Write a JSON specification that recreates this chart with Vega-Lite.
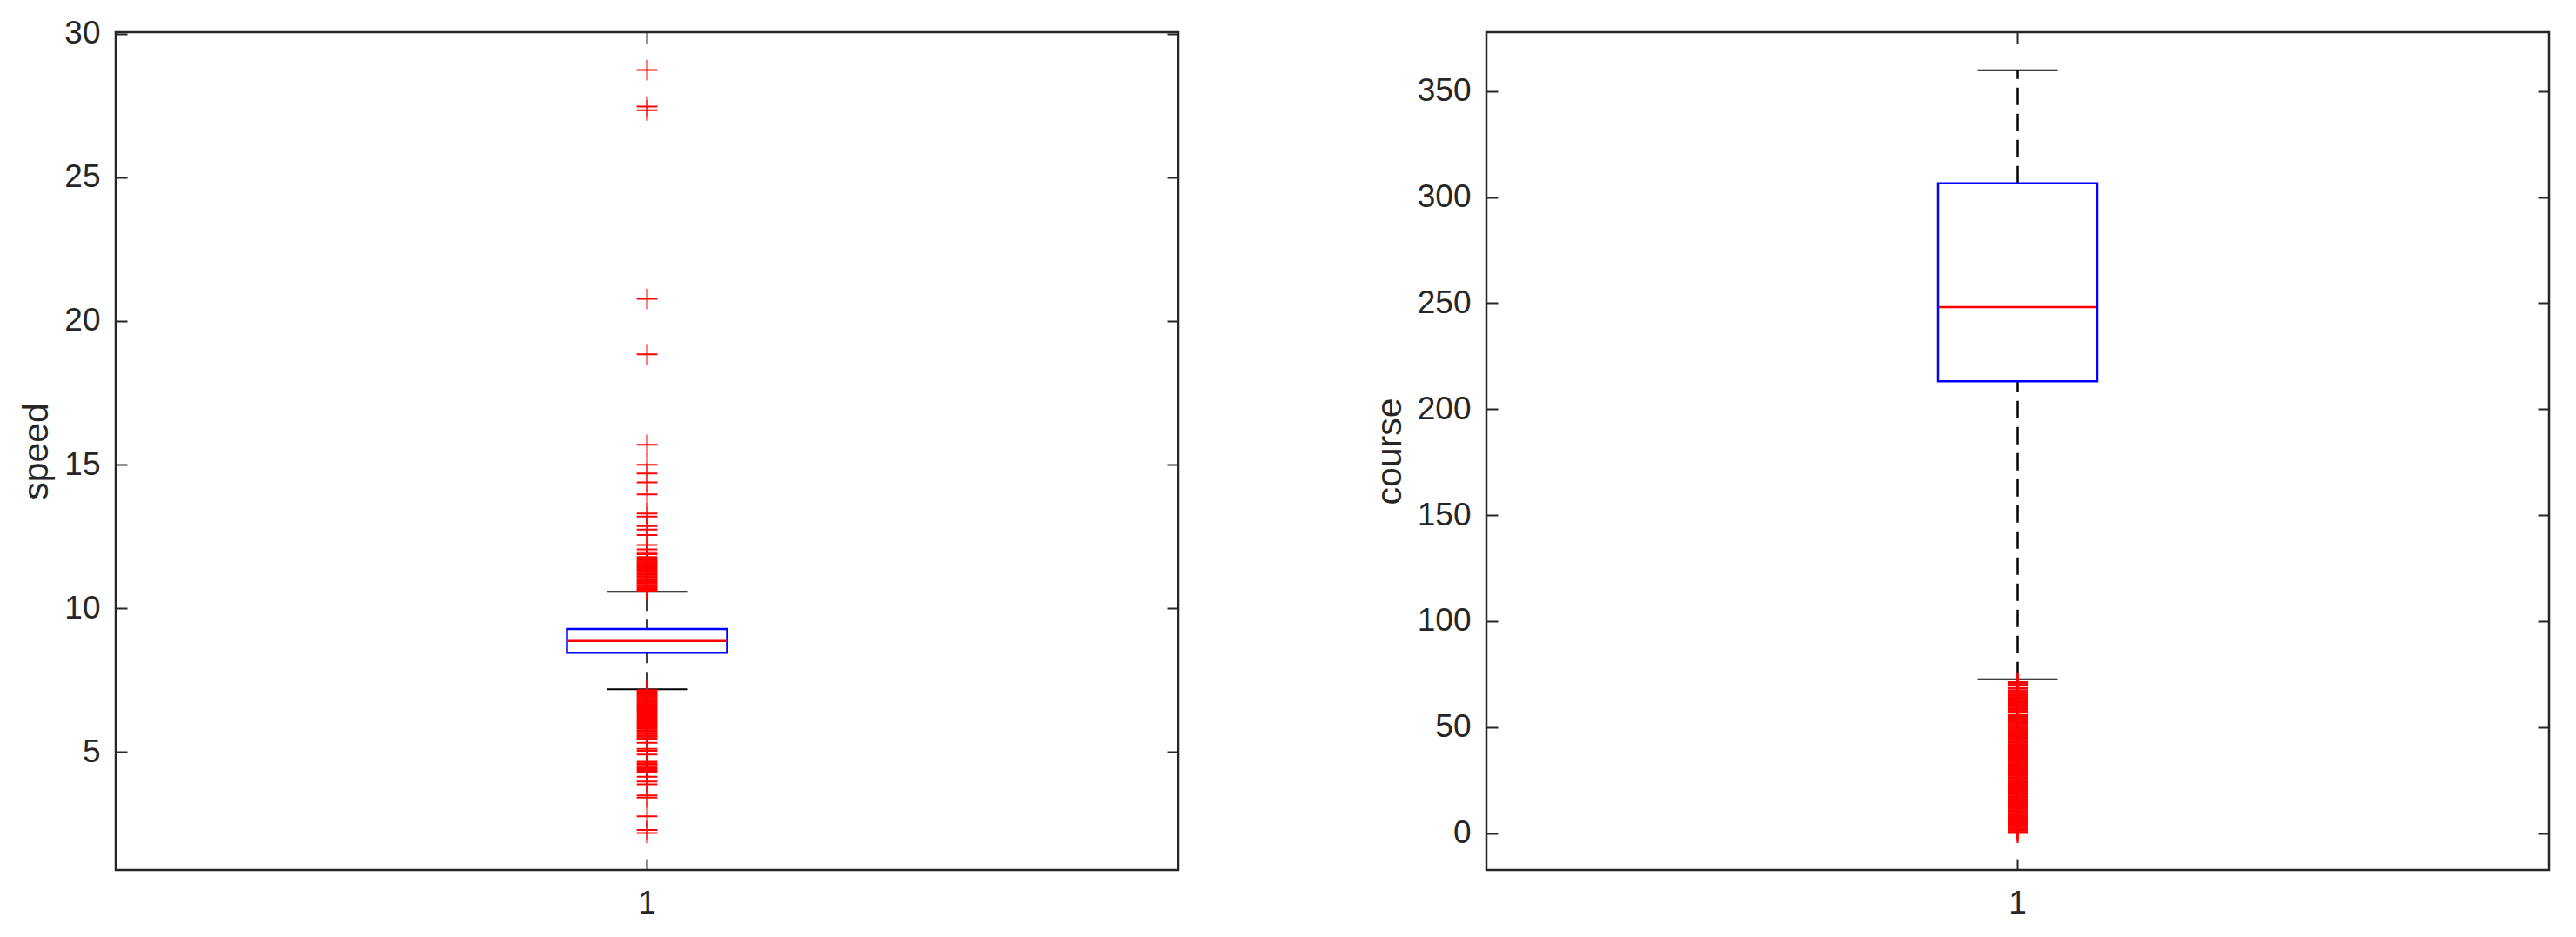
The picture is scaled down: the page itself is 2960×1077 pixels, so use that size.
{
  "$schema": "https://vega.github.io/schema/vega-lite/v6.json",
  "background": "white",
  "padding": {"left": 20, "top": 18, "right": 0, "bottom": 0},
  "autosize": {"type": "pad"},
  "config": {
    "view": {"stroke": "#262626", "strokeWidth": 2.5},
    "axis": {
      "labelFont": "Liberation Sans", "labelFontSize": 37, "labelColor": "#262626",
      "titleFont": "Liberation Sans", "titleFontSize": 41, "titleColor": "#262626", "titleFontWeight": "normal",
      "tickColor": "#262626", "tickWidth": 2, "tickSize": -13, "domain": false, "grid": false, "labelPadding": 31, "titlePadding": 10
    }
  },
  "datasets": {
    "speed_box": [{"g": "1", "q1": 8.45, "median": 8.86, "q3": 9.28, "lo": 7.18, "hi": 10.57}],
    "speed_out": [
      {"g": "1", "v": 28.73}, {"g": "1", "v": 27.46}, {"g": "1", "v": 27.33}, {"g": "1", "v": 20.77}, {"g": "1", "v": 18.84},
      {"g": "1", "v": 15.69}, {"g": "1", "v": 14.99}, {"g": "1", "v": 14.69}, {"g": "1", "v": 14.38}, {"g": "1", "v": 13.96},
      {"g": "1", "v": 13.30}, {"g": "1", "v": 13.19}, {"g": "1", "v": 12.86}, {"g": "1", "v": 12.74}, {"g": "1", "v": 12.55},
      {"g": "1", "v": 12.20}, {"g": "1", "v": 12.05}, {"g": "1", "v": 11.95}, {"g": "1", "v": 11.88},
      {"g": "1", "v": 11.78}, {"g": "1", "v": 11.74}, {"g": "1", "v": 11.69}, {"g": "1", "v": 11.65}, {"g": "1", "v": 11.60},
      {"g": "1", "v": 11.56}, {"g": "1", "v": 11.52}, {"g": "1", "v": 11.47}, {"g": "1", "v": 11.43}, {"g": "1", "v": 11.38},
      {"g": "1", "v": 11.34}, {"g": "1", "v": 11.30}, {"g": "1", "v": 11.25}, {"g": "1", "v": 11.21}, {"g": "1", "v": 11.16},
      {"g": "1", "v": 11.12}, {"g": "1", "v": 11.08}, {"g": "1", "v": 11.03}, {"g": "1", "v": 10.99}, {"g": "1", "v": 10.94},
      {"g": "1", "v": 10.90}, {"g": "1", "v": 10.86}, {"g": "1", "v": 10.81}, {"g": "1", "v": 10.77}, {"g": "1", "v": 10.72},
      {"g": "1", "v": 10.68}, {"g": "1", "v": 10.64}, {"g": "1", "v": 10.60},
      {"g": "1", "v": 7.15}, {"g": "1", "v": 7.10}, {"g": "1", "v": 7.06}, {"g": "1", "v": 7.01}, {"g": "1", "v": 6.97},
      {"g": "1", "v": 6.92}, {"g": "1", "v": 6.88}, {"g": "1", "v": 6.83}, {"g": "1", "v": 6.79}, {"g": "1", "v": 6.74},
      {"g": "1", "v": 6.70}, {"g": "1", "v": 6.65}, {"g": "1", "v": 6.61}, {"g": "1", "v": 6.56}, {"g": "1", "v": 6.52},
      {"g": "1", "v": 6.47}, {"g": "1", "v": 6.43}, {"g": "1", "v": 6.38}, {"g": "1", "v": 6.34}, {"g": "1", "v": 6.29},
      {"g": "1", "v": 6.25}, {"g": "1", "v": 6.20}, {"g": "1", "v": 6.16}, {"g": "1", "v": 6.11}, {"g": "1", "v": 6.07},
      {"g": "1", "v": 6.02}, {"g": "1", "v": 5.98}, {"g": "1", "v": 5.93}, {"g": "1", "v": 5.89}, {"g": "1", "v": 5.84},
      {"g": "1", "v": 5.80}, {"g": "1", "v": 5.75}, {"g": "1", "v": 5.71}, {"g": "1", "v": 5.66}, {"g": "1", "v": 5.62},
      {"g": "1", "v": 5.57}, {"g": "1", "v": 5.53}, {"g": "1", "v": 5.48}, {"g": "1", "v": 5.45},
      {"g": "1", "v": 5.32}, {"g": "1", "v": 5.11}, {"g": "1", "v": 5.04}, {"g": "1", "v": 4.91},
      {"g": "1", "v": 4.66}, {"g": "1", "v": 4.61}, {"g": "1", "v": 4.56}, {"g": "1", "v": 4.50}, {"g": "1", "v": 4.45},
      {"g": "1", "v": 4.40}, {"g": "1", "v": 4.34}, {"g": "1", "v": 4.28}, {"g": "1", "v": 4.14}, {"g": "1", "v": 3.97},
      {"g": "1", "v": 3.87}, {"g": "1", "v": 3.49}, {"g": "1", "v": 3.41}, {"g": "1", "v": 2.76}, {"g": "1", "v": 2.28},
      {"g": "1", "v": 2.18}
    ],
    "course_box": [{"g": "1", "q1": 213.1, "median": 248.1, "q3": 306.5, "lo": 72.6, "hi": 359.8}],
    "course_out": [
      {"g": "1", "v": 71.2}, {"g": "1", "v": 70.6}, {"g": "1", "v": 70.0}, {"g": "1", "v": 69.6}, {"g": "1", "v": 68.5},
      {"g": "1", "v": 68.2}, {"g": "1", "v": 67.2}, {"g": "1", "v": 66.6}, {"g": "1", "v": 66.0}, {"g": "1", "v": 65.4},
      {"g": "1", "v": 64.8}, {"g": "1", "v": 64.2}, {"g": "1", "v": 63.6}, {"g": "1", "v": 63.0}, {"g": "1", "v": 62.4},
      {"g": "1", "v": 61.8}, {"g": "1", "v": 61.2}, {"g": "1", "v": 60.6}, {"g": "1", "v": 60.0}, {"g": "1", "v": 59.4},
      {"g": "1", "v": 58.8}, {"g": "1", "v": 58.2}, {"g": "1", "v": 57.6}, {"g": "1", "v": 57.0},
      {"g": "1", "v": 55.8}, {"g": "1", "v": 55.2}, {"g": "1", "v": 54.6}, {"g": "1", "v": 54.0}, {"g": "1", "v": 53.4},
      {"g": "1", "v": 52.8}, {"g": "1", "v": 52.2}, {"g": "1", "v": 51.6}, {"g": "1", "v": 51.0}, {"g": "1", "v": 50.4},
      {"g": "1", "v": 49.8}, {"g": "1", "v": 49.2}, {"g": "1", "v": 48.6}, {"g": "1", "v": 48.0}, {"g": "1", "v": 47.4},
      {"g": "1", "v": 46.8}, {"g": "1", "v": 46.2}, {"g": "1", "v": 45.6}, {"g": "1", "v": 45.0}, {"g": "1", "v": 44.4},
      {"g": "1", "v": 43.8}, {"g": "1", "v": 43.2}, {"g": "1", "v": 42.6}, {"g": "1", "v": 42.0}, {"g": "1", "v": 41.4},
      {"g": "1", "v": 40.8}, {"g": "1", "v": 40.2}, {"g": "1", "v": 39.6}, {"g": "1", "v": 39.0}, {"g": "1", "v": 38.4},
      {"g": "1", "v": 37.8}, {"g": "1", "v": 37.2}, {"g": "1", "v": 36.6}, {"g": "1", "v": 36.0}, {"g": "1", "v": 35.4},
      {"g": "1", "v": 34.8}, {"g": "1", "v": 34.2}, {"g": "1", "v": 33.6}, {"g": "1", "v": 33.0}, {"g": "1", "v": 32.4},
      {"g": "1", "v": 31.8}, {"g": "1", "v": 31.2}, {"g": "1", "v": 30.6}, {"g": "1", "v": 30.0}, {"g": "1", "v": 29.4},
      {"g": "1", "v": 28.8}, {"g": "1", "v": 28.2}, {"g": "1", "v": 27.6}, {"g": "1", "v": 27.0}, {"g": "1", "v": 26.4},
      {"g": "1", "v": 25.8}, {"g": "1", "v": 25.2}, {"g": "1", "v": 24.6}, {"g": "1", "v": 24.0}, {"g": "1", "v": 23.4},
      {"g": "1", "v": 22.8}, {"g": "1", "v": 22.2}, {"g": "1", "v": 21.6}, {"g": "1", "v": 21.0}, {"g": "1", "v": 20.4},
      {"g": "1", "v": 19.8}, {"g": "1", "v": 19.2}, {"g": "1", "v": 18.6}, {"g": "1", "v": 18.0}, {"g": "1", "v": 17.4},
      {"g": "1", "v": 16.8}, {"g": "1", "v": 16.2}, {"g": "1", "v": 15.6}, {"g": "1", "v": 15.0}, {"g": "1", "v": 14.4},
      {"g": "1", "v": 13.8}, {"g": "1", "v": 13.2}, {"g": "1", "v": 12.6}, {"g": "1", "v": 12.0}, {"g": "1", "v": 11.4},
      {"g": "1", "v": 10.8}, {"g": "1", "v": 10.2}, {"g": "1", "v": 9.6}, {"g": "1", "v": 9.0}, {"g": "1", "v": 8.4},
      {"g": "1", "v": 7.8}, {"g": "1", "v": 7.2}, {"g": "1", "v": 6.6}, {"g": "1", "v": 6.0}, {"g": "1", "v": 5.4},
      {"g": "1", "v": 4.8}, {"g": "1", "v": 4.2}, {"g": "1", "v": 3.6}, {"g": "1", "v": 3.0}, {"g": "1", "v": 2.4},
      {"g": "1", "v": 1.8}, {"g": "1", "v": 1.2}, {"g": "1", "v": 0.6}, {"g": "1", "v": 0.0}
    ]
  },
  "hconcat": [
    {
      "width": 1221, "height": 963,
      "resolve": {"axis": {"x": "independent", "y": "independent"}},
      "layer": [
        {
          "data": {"name": "speed_box"},
          "mark": {"type": "rule", "color": "black", "strokeWidth": 2.5, "strokeDash": [20, 10]},
          "encoding": {
            "x": {"field": "g", "type": "nominal", "scale": {"paddingInner": 0, "paddingOuter": 0}, "title": null,
                  "axis": {"orient": "bottom", "labelAngle": 0, "labelPadding": 33}},
            "y": {"field": "lo", "type": "quantitative", "scale": {"domain": [0.89, 30.05], "nice": false, "zero": false},
                  "title": "speed", "axis": {"orient": "left", "values": [5, 10, 15, 20, 25, 30]}},
            "y2": {"field": "hi"}
          }
        },
        {
          "data": {"name": "speed_box"},
          "mark": {"type": "bar", "size": 184, "fill": "white", "stroke": "blue", "strokeWidth": 2.5},
          "encoding": {
            "x": {"field": "g", "type": "nominal", "axis": {"orient": "top", "labels": false, "title": null}},
            "y": {"field": "q1", "type": "quantitative", "axis": {"orient": "right", "labels": false, "title": null, "values": [5, 10, 15, 20, 25, 30]}},
            "y2": {"field": "q3"}
          }
        },
        {
          "data": {"name": "speed_box"},
          "mark": {"type": "tick", "color": "red", "size": 182, "thickness": 2.5, "opacity": 1},
          "encoding": {
            "x": {"field": "g", "type": "nominal", "axis": null},
            "y": {"field": "median", "type": "quantitative", "axis": null}
          }
        },
        {
          "data": {"name": "speed_box"},
          "mark": {"type": "tick", "color": "black", "size": 92, "thickness": 2, "opacity": 1},
          "encoding": {
            "x": {"field": "g", "type": "nominal", "axis": null},
            "y": {"field": "lo", "type": "quantitative", "axis": null}
          }
        },
        {
          "data": {"name": "speed_box"},
          "mark": {"type": "tick", "color": "black", "size": 92, "thickness": 2, "opacity": 1},
          "encoding": {
            "x": {"field": "g", "type": "nominal", "axis": null},
            "y": {"field": "hi", "type": "quantitative", "axis": null}
          }
        },
        {
          "data": {"name": "speed_out"},
          "mark": {"type": "point", "shape": "M-1,0L1,0M0,-1L0,1", "size": 560, "filled": false, "stroke": "red", "strokeWidth": 2, "opacity": 1},
          "encoding": {
            "x": {"field": "g", "type": "nominal", "axis": null},
            "y": {"field": "v", "type": "quantitative", "axis": null}
          }
        }
      ]
    },
    {
      "width": 1221, "height": 963,
      "resolve": {"axis": {"x": "independent", "y": "independent"}},
      "layer": [
        {
          "data": {"name": "course_box"},
          "mark": {"type": "rule", "color": "black", "strokeWidth": 2.5, "strokeDash": [20, 10]},
          "encoding": {
            "x": {"field": "g", "type": "nominal", "scale": {"paddingInner": 0, "paddingOuter": 0}, "title": null,
                  "axis": {"orient": "bottom", "labelAngle": 0, "labelPadding": 33}},
            "y": {"field": "lo", "type": "quantitative", "scale": {"domain": [-17.4, 377.8], "nice": false, "zero": false},
                  "title": "course", "axis": {"orient": "left", "values": [0, 50, 100, 150, 200, 250, 300, 350]}},
            "y2": {"field": "hi"}
          }
        },
        {
          "data": {"name": "course_box"},
          "mark": {"type": "bar", "size": 183, "fill": "white", "stroke": "blue", "strokeWidth": 2.5},
          "encoding": {
            "x": {"field": "g", "type": "nominal", "axis": {"orient": "top", "labels": false, "title": null}},
            "y": {"field": "q1", "type": "quantitative", "axis": {"orient": "right", "labels": false, "title": null, "values": [0, 50, 100, 150, 200, 250, 300, 350]}},
            "y2": {"field": "q3"}
          }
        },
        {
          "data": {"name": "course_box"},
          "mark": {"type": "tick", "color": "red", "size": 181, "thickness": 2.5, "opacity": 1},
          "encoding": {
            "x": {"field": "g", "type": "nominal", "axis": null},
            "y": {"field": "median", "type": "quantitative", "axis": null}
          }
        },
        {
          "data": {"name": "course_box"},
          "mark": {"type": "tick", "color": "black", "size": 92, "thickness": 2, "opacity": 1},
          "encoding": {
            "x": {"field": "g", "type": "nominal", "axis": null},
            "y": {"field": "lo", "type": "quantitative", "axis": null}
          }
        },
        {
          "data": {"name": "course_box"},
          "mark": {"type": "tick", "color": "black", "size": 92, "thickness": 2, "opacity": 1},
          "encoding": {
            "x": {"field": "g", "type": "nominal", "axis": null},
            "y": {"field": "hi", "type": "quantitative", "axis": null}
          }
        },
        {
          "data": {"name": "course_out"},
          "mark": {"type": "point", "shape": "M-1,0L1,0M0,-1L0,1", "size": 530, "filled": false, "stroke": "red", "strokeWidth": 2, "opacity": 1},
          "encoding": {
            "x": {"field": "g", "type": "nominal", "axis": null},
            "y": {"field": "v", "type": "quantitative", "axis": null}
          }
        }
      ]
    }
  ],
  "spacing": 354,
  "bounds": "flush"
}
